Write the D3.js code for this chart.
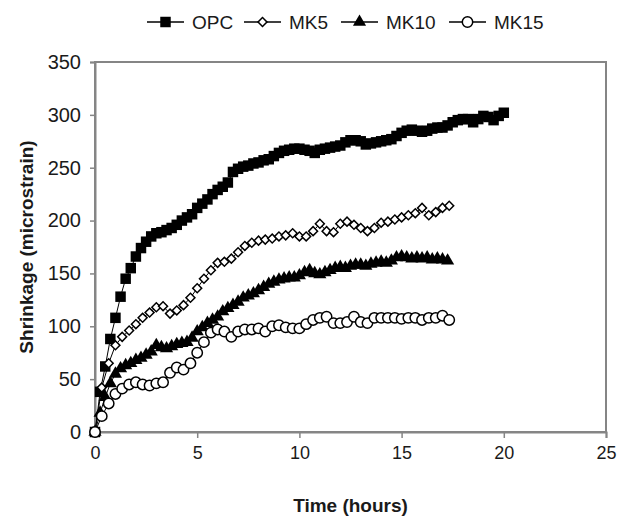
<!DOCTYPE html>
<html>
<head>
<meta charset="utf-8">
<script src="https://cdn.jsdelivr.net/npm/d3@7"></script>
<style>
  body { margin: 0; background: #fff; }
  text { font-family: Arial, "Liberation Sans", sans-serif; fill: #1a1a1a; }
</style>
</head>
<body>
<div id="chart"></div>
<script>
// series (time in hours, shrinkage in microstrain)
const opcTime = [0, 0.25, 0.5, 0.75, 1, 1.25, 1.5, 1.75, 2, 2.25, 2.5, 2.75, 3, 3.25, 3.5, 3.75, 4, 4.25, 4.5, 4.75,
  5, 5.25, 5.5, 5.75, 6, 6.25, 6.5, 6.75, 7, 7.25, 7.5, 7.75, 8, 8.25, 8.5, 8.75, 9, 9.25, 9.5, 9.75,
  10, 10.25, 10.5, 10.75, 11, 11.25, 11.5, 11.75, 12, 12.25, 12.5, 12.75, 13, 13.25, 13.5, 13.75, 14, 14.25, 14.5, 14.75,
  15, 15.25, 15.5, 15.75, 16, 16.25, 16.5, 16.75, 17, 17.25, 17.5, 17.75, 18, 18.25, 18.5, 18.75, 19, 19.25, 19.5, 19.75, 20];
const opcShrink = [0, 38, 62, 88, 108, 128, 145, 155, 166, 174, 180, 185, 188, 189, 191, 193, 196, 200, 203, 206,
  212, 216, 220, 225, 229, 232, 236, 246, 249, 251, 252, 254, 255, 257, 258, 261, 264, 266, 267, 268,
  268, 267, 266, 264, 267, 268, 269, 270, 271, 274, 276, 276, 275, 272, 273, 274, 275, 276, 277, 280,
  283, 285, 286, 285, 284, 285, 287, 288, 288, 290, 293, 295, 296, 296, 293, 296, 299, 298, 295, 299, 302];

const mk5Time = [0, 0.33, 0.67, 1, 1.33, 1.67, 2, 2.33, 2.67, 3, 3.33, 3.67, 4, 4.33, 4.67, 5, 5.33, 5.67,
  6, 6.33, 6.67, 7, 7.33, 7.67, 8, 8.33, 8.67, 9, 9.33, 9.67, 10, 10.33, 10.67, 11, 11.33, 11.67,
  12, 12.33, 12.67, 13, 13.33, 13.67, 14, 14.33, 14.67, 15, 15.33, 15.67, 16, 16.33, 16.67, 17, 17.33];
const mk5Shrink = [0, 42, 65, 82, 90, 96, 102, 108, 113, 118, 119, 112, 115, 120, 127, 136, 145, 153,
  160, 161, 164, 170, 176, 179, 181, 182, 183, 185, 186, 188, 185, 185, 190, 197, 190, 189,
  197, 199, 196, 193, 190, 193, 198, 199, 201, 203, 205, 207, 212, 205, 208, 212, 214];

const mk10Time = [0, 0.25, 0.5, 0.75, 1, 1.25, 1.5, 1.75, 2, 2.25, 2.5, 2.75, 3, 3.25, 3.5, 3.75, 4, 4.25, 4.5, 4.75,
  5, 5.25, 5.5, 5.75, 6, 6.25, 6.5, 6.75, 7, 7.25, 7.5, 7.75, 8, 8.25, 8.5, 8.75, 9, 9.25, 9.5, 9.75,
  10, 10.25, 10.5, 10.75, 11, 11.25, 11.5, 11.75, 12, 12.25, 12.5, 12.75, 13, 13.25, 13.5, 13.75, 14, 14.25, 14.5, 14.75,
  15, 15.25, 15.5, 15.75, 16, 16.25, 16.5, 16.75, 17, 17.25];
const mk10Shrink = [0, 18, 33, 46, 55, 60, 63, 65, 68, 70, 73, 76, 82, 80, 79, 81, 83, 84, 85, 89,
  95, 99, 103, 106, 109, 114, 117, 120, 123, 127, 129, 131, 134, 137, 140, 142, 144, 145, 146, 146,
  148, 151, 153, 150, 149, 151, 153, 155, 156, 155, 157, 158, 158, 157, 159, 160, 161, 160, 162, 165,
  166, 165, 164, 165, 164, 165, 163, 164, 163, 162];

const mk15Time = [0, 0.33, 0.67, 1, 1.33, 1.67, 2, 2.33, 2.67, 3, 3.33, 3.67, 4, 4.33, 4.67, 5, 5.33, 5.67,
  6, 6.33, 6.67, 7, 7.33, 7.67, 8, 8.33, 8.67, 9, 9.33, 9.67, 10, 10.33, 10.67, 11, 11.33, 11.67,
  12, 12.33, 12.67, 13, 13.33, 13.67, 14, 14.33, 14.67, 15, 15.33, 15.67, 16, 16.33, 16.67, 17, 17.33];
const mk15Shrink = [0, 15, 27, 36, 41, 45, 47, 45, 44, 46, 47, 56, 61, 59, 65, 75, 85, 94,
  97, 95, 90, 95, 97, 97, 98, 95, 100, 101, 99, 98, 98, 102, 106, 108, 109, 103,
  103, 104, 109, 104, 103, 108, 108, 108, 108, 107, 108, 108, 106, 108, 108, 110, 106];

const seriesNames = ["OPC", "MK5", "MK10", "MK15"];
const xTicks = [0, 5, 10, 15, 20, 25];
const yTicks = [0, 50, 100, 150, 200, 250, 300, 350];

const series = [
  { name: seriesNames[0], time: opcTime, value: opcShrink, marker: "square" },
  { name: seriesNames[1], time: mk5Time, value: mk5Shrink, marker: "diamond" },
  { name: seriesNames[2], time: mk10Time, value: mk10Shrink, marker: "triangle" },
  { name: seriesNames[3], time: mk15Time, value: mk15Shrink, marker: "circle" }
];

const width = 629;
const height = 521;
const margin = { top: 62, right: 23, bottom: 89, left: 95 };
const axisColor = "#858585";

const svg = d3
  .select("#chart")
  .append("svg")
  .attr("width", width)
  .attr("height", height);

svg.append("rect").attr("width", width).attr("height", height).attr("fill", "#fff");

const x = d3.scaleLinear().domain([0, 25]).range([margin.left, width - margin.right]);
const y = d3.scaleLinear().domain([0, 350]).range([height - margin.bottom, margin.top]);

// plot frame
svg
  .append("rect")
  .attr("x", x(0))
  .attr("y", y(350))
  .attr("width", x(25) - x(0))
  .attr("height", y(0) - y(350))
  .attr("fill", "none")
  .attr("stroke", axisColor)
  .attr("stroke-width", 2);

const xAxis = svg
  .append("g")
  .attr("transform", `translate(0,${y(0)})`)
  .call(d3.axisBottom(x).tickValues(xTicks).tickSize(6).tickPadding(8));

const yAxis = svg
  .append("g")
  .attr("transform", `translate(${x(0)},0)`)
  .call(d3.axisLeft(y).tickValues(yTicks).tickSize(5).tickPadding(9));

[xAxis, yAxis].forEach((ax) => {
  ax.select(".domain").attr("stroke", axisColor).attr("stroke-width", 2);
  ax.selectAll(".tick line").attr("stroke", axisColor).attr("stroke-width", 1.5);
  ax.selectAll(".tick text")
    .style("font-family", "Arial, 'Liberation Sans', sans-serif")
    .attr("fill", "#1a1a1a");
});
xAxis.selectAll(".tick text").style("font-size", "18px");
yAxis.selectAll(".tick text").style("font-size", "20px");

// axis titles
svg
  .append("text")
  .attr("x", (x(0) + x(25)) / 2)
  .attr("y", 512)
  .attr("text-anchor", "middle")
  .style("font-size", "19px")
  .style("font-weight", "bold")
  .text("Time (hours)");

svg
  .append("text")
  .attr("transform", `translate(33,${(y(0) + y(350)) / 2}) rotate(-90)`)
  .attr("text-anchor", "middle")
  .style("font-size", "19px")
  .style("font-weight", "bold")
  .text("Shrinkage (microstrain)");

// marker drawing
const drawMarker = (sel, type) => {
  if (type === "square") {
    sel.append("path").attr("d", d3.symbol(d3.symbolSquare, 110)()).attr("fill", "#000");
  } else if (type === "diamond") {
    sel
      .append("path")
      .attr("d", d3.symbol(d3.symbolSquare, 40)())
      .attr("transform", "rotate(45)")
      .attr("fill", "#fff")
      .attr("stroke", "#000")
      .attr("stroke-width", 1.5);
  } else if (type === "triangle") {
    sel.append("path").attr("d", d3.symbol(d3.symbolTriangle, 75)()).attr("fill", "#000");
  } else {
    sel
      .append("circle")
      .attr("r", 5.2)
      .attr("fill", "#fff")
      .attr("stroke", "#000")
      .attr("stroke-width", 1.5);
  }
};

const line = d3
  .line()
  .x((d) => x(d[0]))
  .y((d) => y(d[1]));

series.forEach((s) => {
  const pts = s.time.map((t, i) => [t, s.value[i]]);
  const g = svg.append("g").attr("class", "series");
  g.append("path")
    .attr("d", line(pts))
    .attr("fill", "none")
    .attr("stroke", "#000")
    .attr("stroke-width", 1);
  g.selectAll("g.pt")
    .data(pts)
    .enter()
    .append("g")
    .attr("class", "pt")
    .attr("transform", (d) => `translate(${x(d[0])},${y(d[1])})`)
    .each(function () {
      drawMarker(d3.select(this), s.marker);
    });
});

// legend
const legendX = [147, 244, 341, 449];
const legend = svg.append("g").attr("transform", "translate(0,22)");
series.forEach((s, i) => {
  const item = legend.append("g").attr("transform", `translate(${legendX[i]},0)`);
  item.append("line").attr("x1", 0).attr("x2", 37).attr("stroke", "#000").attr("stroke-width", 1.5);
  const m = item.append("g").attr("transform", "translate(18.5,0)");
  drawMarker(m, s.marker);
  item
    .append("text")
    .attr("x", 45)
    .attr("y", 7)
    .style("font-size", "19px")
    .text(s.name);
});
</script>
</body>
</html>
